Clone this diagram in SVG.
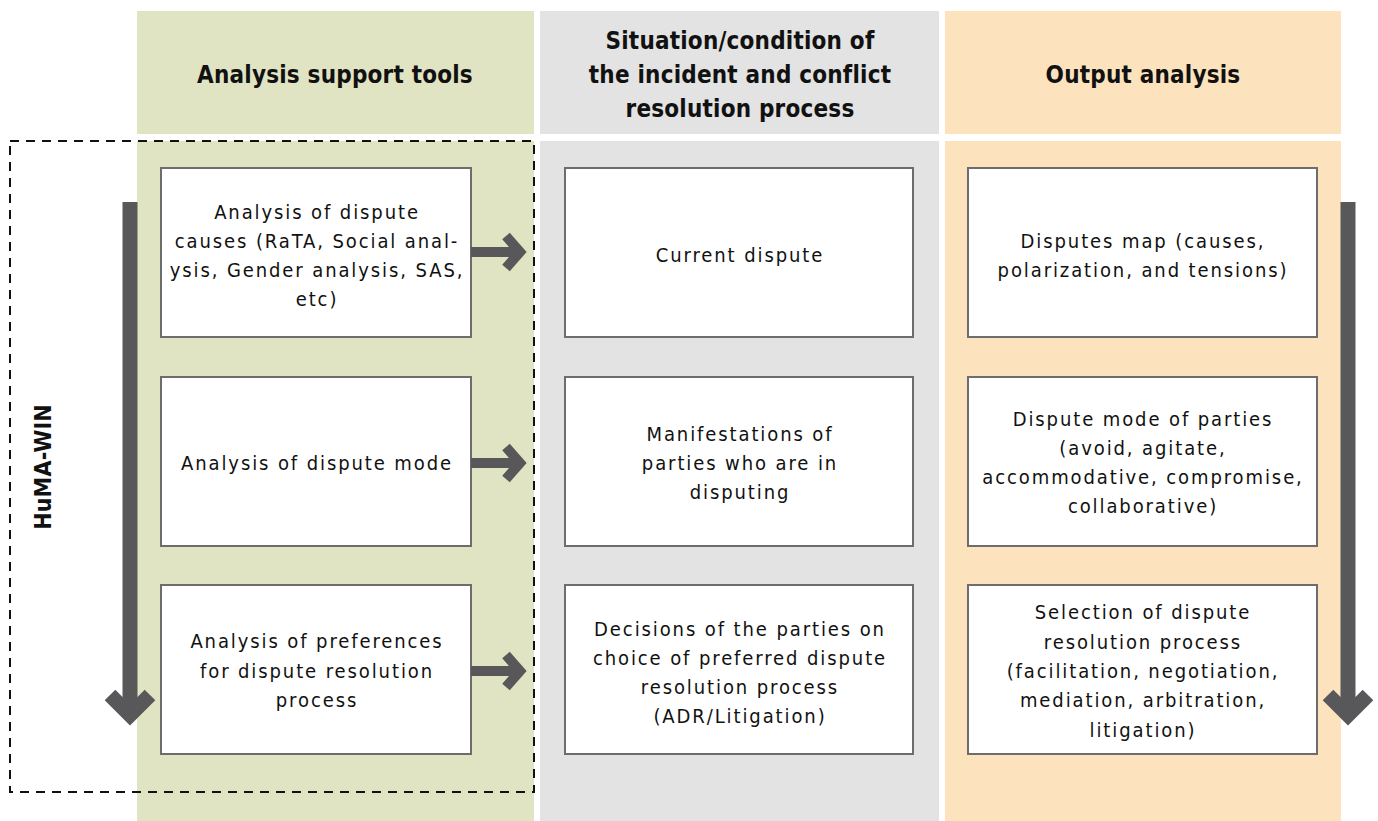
<svg xmlns="http://www.w3.org/2000/svg" width="1378" height="821" viewBox="0 0 1378 821">
  <style>
    .hd { font-family: "DejaVu Sans Condensed", "DejaVu Sans", sans-serif; font-weight: bold; font-size: 24px; text-anchor: middle; fill: #111; letter-spacing: 0.2px; }
    .tx { font-family: "DejaVu Sans Condensed", "DejaVu Sans", sans-serif; font-size: 20px; text-anchor: middle; fill: #111; letter-spacing: 1.9px; }
    .box { fill: #fff; stroke: #6d6d6d; stroke-width: 2; }
    .shaft { fill: none; stroke: #58585a; }
    .chev { fill: none; stroke: #58585a; stroke-linejoin: miter; }
  </style>

  <!-- column backgrounds -->
  <g id="columns">
    <rect x="137" y="11" width="397" height="123" fill="#e1e4c3"/>
    <rect x="137" y="141" width="397" height="680" fill="#e1e4c3"/>
    <rect x="540" y="11" width="399" height="123" fill="#e2e3e2"/>
    <rect x="540" y="141" width="399" height="680" fill="#e2e3e2"/>
    <rect x="945" y="11" width="396" height="123" fill="#fce3bd"/>
    <rect x="945" y="141" width="396" height="680" fill="#fce3bd"/>
  </g>

  <!-- column headings -->
  <g id="headings">
    <text class="hd" x="335" y="83">Analysis support tools</text>
    <text class="hd" x="740" y="49">Situation/condition of</text>
    <text class="hd" x="740" y="83">the incident and conflict</text>
    <text class="hd" x="740" y="117">resolution process</text>
    <text class="hd" x="1143" y="83">Output analysis</text>
  </g>

  <!-- HuMA-WIN grouping -->
  <g id="huma-win">
    <rect x="10" y="141" width="524" height="651" fill="none" stroke="#111" stroke-width="2" stroke-dasharray="9,7"/>
    <text class="hd" transform="translate(51,467) rotate(-90)" style="font-size:23px">HuMA-WIN</text>
  </g>

  <!-- left column nodes -->
  <g id="causes">
    <rect class="box" x="161" y="168" width="310" height="169"/>
    <text class="tx" x="317" y="219">Analysis of dispute</text>
    <text class="tx" x="317" y="248">causes (RaTA, Social anal-</text>
    <text class="tx" x="317" y="277">ysis, Gender analysis, SAS,</text>
    <text class="tx" x="317" y="306">etc)</text>
  </g>
  <g id="mode">
    <rect class="box" x="161" y="377" width="310" height="169"/>
    <text class="tx" x="317" y="470">Analysis of dispute mode</text>
  </g>
  <g id="preferences">
    <rect class="box" x="161" y="585" width="310" height="169"/>
    <text class="tx" x="317" y="648">Analysis of preferences</text>
    <text class="tx" x="317" y="678">for dispute resolution</text>
    <text class="tx" x="317" y="707">process</text>
  </g>

  <!-- middle column nodes -->
  <g id="current">
    <rect class="box" x="565" y="168" width="348" height="169"/>
    <text class="tx" x="740" y="262">Current dispute</text>
  </g>
  <g id="manifestations">
    <rect class="box" x="565" y="377" width="348" height="169"/>
    <text class="tx" x="740" y="441">Manifestations of</text>
    <text class="tx" x="740" y="470">parties who are in</text>
    <text class="tx" x="740" y="499">disputing</text>
  </g>
  <g id="decisions">
    <rect class="box" x="565" y="585" width="348" height="169"/>
    <text class="tx" x="740" y="636">Decisions of the parties on</text>
    <text class="tx" x="740" y="665">choice of preferred dispute</text>
    <text class="tx" x="740" y="694">resolution process</text>
    <text class="tx" x="740" y="723">(ADR/Litigation)</text>
  </g>

  <!-- right column nodes -->
  <g id="map">
    <rect class="box" x="968" y="168" width="349" height="169"/>
    <text class="tx" x="1143" y="248">Disputes map (causes,</text>
    <text class="tx" x="1143" y="277">polarization, and tensions)</text>
  </g>
  <g id="parties-mode">
    <rect class="box" x="968" y="377" width="349" height="169"/>
    <text class="tx" x="1143" y="426">Dispute mode of parties</text>
    <text class="tx" x="1143" y="455">(avoid, agitate,</text>
    <text class="tx" x="1143" y="484">accommodative, compromise,</text>
    <text class="tx" x="1143" y="513">collaborative)</text>
  </g>
  <g id="selection">
    <rect class="box" x="968" y="585" width="349" height="169"/>
    <text class="tx" x="1143" y="619">Selection of dispute</text>
    <text class="tx" x="1143" y="649">resolution process</text>
    <text class="tx" x="1143" y="678">(facilitation, negotiation,</text>
    <text class="tx" x="1143" y="707">mediation, arbitration,</text>
    <text class="tx" x="1143" y="737">litigation)</text>
  </g>

  <!-- connectors -->
  <g id="connectors">
    <!-- left-to-middle arrows -->
    <path class="shaft" d="M471,252 H518" stroke-width="10"/>
    <path class="chev" d="M506,236 L520,252 L506,268" stroke-width="10"/>
    <path class="shaft" d="M471,463 H518" stroke-width="10"/>
    <path class="chev" d="M506,447 L520,463 L506,479" stroke-width="10"/>
    <path class="shaft" d="M471,671 H518" stroke-width="10"/>
    <path class="chev" d="M506,655 L520,671 L506,687" stroke-width="10"/>
    <!-- vertical flow arrows -->
    <path class="shaft" d="M130,202 V715" stroke-width="15"/>
    <path class="chev" d="M110,695 L130,715 L150,695" stroke-width="15"/>
    <path class="shaft" d="M1348,202 V715" stroke-width="15"/>
    <path class="chev" d="M1328,695 L1348,715 L1368,695" stroke-width="15"/>
  </g>
</svg>
